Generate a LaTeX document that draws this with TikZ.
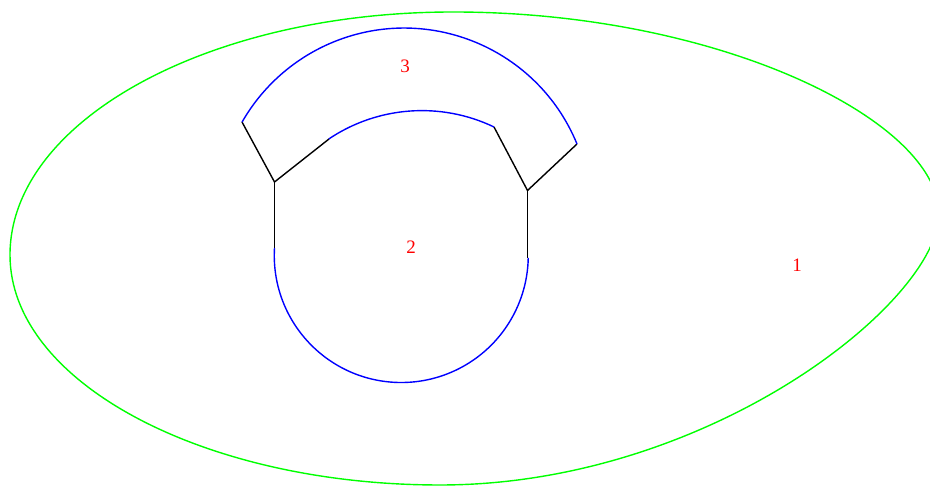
\documentclass[tikz,border=0pt]{standalone}
\usepackage{fontspec}
\setmainfont{Liberation Serif}
\begin{document}
\begin{tikzpicture}[x=1pt,y=1pt,
  gline/.style={draw={rgb,255:red,0;green,255;blue,0},line width=1.4pt},
  bline/.style={draw=blue,line width=1.4pt},
  kline/.style={draw=black,line width=1.4pt},
  lab/.style={text=red,font=\fontsize{19}{21}\selectfont,inner sep=0pt}]
\useasboundingbox (0,0) rectangle (930,486);
\clip (0,0) rectangle (930,486);
% green outer curve
\coordinate (L) at (10,231);
\coordinate (T) at (453,474);
\coordinate (R) at (939,272);
\coordinate (Bm) at (440,1);
\draw[gline] (L) .. controls (10,365) and (208,474) .. (T)
  .. controls (720,474) and (939,365) .. (R)
  .. controls (939,185) and (710,1) .. (Bm)
  .. controls (203,1) and (10,104) .. cycle;
% black segments
\coordinate (A) at (242,364);
\coordinate (J1) at (274.5,304);
\coordinate (B) at (329,347);
\coordinate (V1) at (274.5,238);
\coordinate (C) at (494,359);
\coordinate (J2) at (527.5,295.5);
\coordinate (D) at (577,342);
\coordinate (V2) at (527.5,228);
\draw[kline] (A) -- (J1) -- (B);
\draw[kline] (J1) -- (V1);
\draw[kline] (C) -- (J2) -- (D);
\draw[kline] (J2) -- (V2);
% blue arcs
\draw[bline] (D) arc[start angle=22.3, end angle=150.2, radius=186.8];
\draw[bline] (C) arc[start angle=64.4, end angle=123.9, radius=166.9];
\draw[bline] (V1) arc[start angle=176.6, end angle=358.9, radius=127];
% labels
\node[lab] (n3) at (405,420) {3};
\node[lab] (n2) at (411,239) {2};
\node[lab] (n1) at (797,221) {1};
\end{tikzpicture}
\end{document}
